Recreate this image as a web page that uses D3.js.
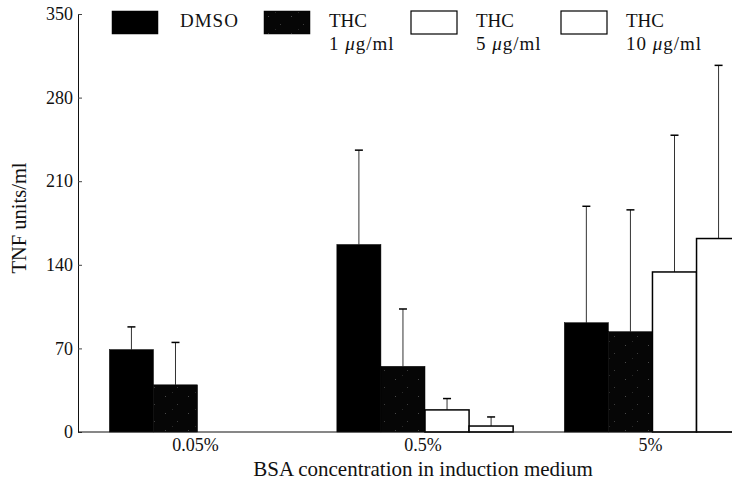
<!DOCTYPE html>
<html>
<head>
<meta charset="utf-8">
<script src="https://cdn.jsdelivr.net/npm/d3@7"></script>
<style>
  body { margin: 0; background: #fff; }
  svg { display: block; font-family: "Liberation Serif", "DejaVu Serif", serif; }
</style>
</head>
<body>
<div id="chart"></div>
<script>
// groups on the x axis
const groups = ["0.05%", "0.5%", "5%"];
// series (legend) : name line 1, dose line 2
const seriesNames = ["DMSO", "THC", "THC", "THC"];
const seriesDoses = ["", "1", "5", "10"];
// mean TNF units/ml per group (null = not measured)
const dmso = [69, 157, 91.5];
const thc1 = [39.5, 55, 84];
const thc5 = [null, 18.5, 134];
const thc10 = [null, 5, 162];
// error bar (upper) sizes
const dmsoErr = [19, 79, 97.5];
const thc1Err = [35.5, 48, 102];
const thc5Err = [null, 9.5, 114.5];
const thc10Err = [null, 7.6, 145];
// y ticks
const yTicks = [0, 70, 140, 210, 280, 350];

const seriesValues = [dmso, thc1, thc5, thc10];
const seriesErrors = [dmsoErr, thc1Err, thc5Err, thc10Err];

const width = 732, height = 486;
const margin = { top: 14, left: 78, bottom: 54 };

const svg = d3.select("#chart").append("svg")
  .attr("width", width)
  .attr("height", height);

// speckled pattern for THC 1 ug/ml
const defs = svg.append("defs");
const pat = defs.append("pattern")
  .attr("id", "speckle")
  .attr("patternUnits", "userSpaceOnUse")
  .attr("width", 23).attr("height", 17);
pat.append("rect").attr("width", 23).attr("height", 17).attr("fill", "#060606");
pat.append("rect").attr("x", 4).attr("y", 5).attr("width", 1).attr("height", 1).attr("fill", "#4a4a4a");
pat.append("rect").attr("x", 16).attr("y", 13).attr("width", 1).attr("height", 1).attr("fill", "#3c3c3c");
pat.append("rect").attr("x", 11).attr("y", 1).attr("width", 1).attr("height", 1).attr("fill", "#2a2a2a");

const fills = ["#000", "url(#speckle)", "#fff", "#fff"];

const y = d3.scaleLinear()
  .domain([0, 350])
  .range([height - margin.bottom, margin.top]);

const x0 = d3.scaleBand()
  .domain(groups)
  .range([margin.left, margin.left + 694])
  .paddingInner(0.225)
  .paddingOuter(0.138);

const x1 = d3.scaleBand()
  .domain(d3.range(seriesValues.length))
  .range([0, x0.bandwidth()])
  .padding(0);

// error bars (drawn first, bars cover the lower half)
const errG = svg.append("g");
seriesValues.forEach((vals, si) => {
  vals.forEach((v, gi) => {
    if (v === null) return;
    const cx = x0(groups[gi]) + x1(si) + x1.bandwidth() / 2;
    const top = v + seriesErrors[si][gi];
    errG.append("line")
      .attr("x1", cx).attr("x2", cx)
      .attr("y1", y(v)).attr("y2", y(top))
      .attr("stroke", "#333").attr("stroke-width", 1);
    errG.append("line")
      .attr("x1", cx - 4).attr("x2", cx + 4)
      .attr("y1", y(top)).attr("y2", y(top))
      .attr("stroke", "#000").attr("stroke-width", 1.5);
  });
});

// bars
const barG = svg.append("g");
seriesValues.forEach((vals, si) => {
  vals.forEach((v, gi) => {
    if (v === null) return;
    barG.append("rect")
      .attr("x", x0(groups[gi]) + x1(si))
      .attr("y", y(v))
      .attr("width", x1.bandwidth())
      .attr("height", y(0) - y(v))
      .attr("fill", fills[si])
      .attr("stroke", "#000")
      .attr("stroke-width", si >= 2 ? 1.5 : 0.5);
  });
});

// y axis
const yAxis = svg.append("g")
  .attr("transform", `translate(${margin.left},0)`)
  .call(d3.axisRight(y).tickValues(yTicks).tickSize(4).tickFormat(d3.format("d")));
yAxis.select(".domain").attr("stroke", "#111");
yAxis.selectAll(".tick line").attr("stroke", "#444");
yAxis.selectAll(".tick text")
  .attr("x", -5)
  .attr("text-anchor", "end")
  .attr("font-family", "Liberation Serif, serif")
  .attr("font-size", 18)
  .attr("fill", "#111");

// x axis line
svg.append("line")
  .attr("x1", margin.left).attr("x2", width)
  .attr("y1", y(0)).attr("y2", y(0))
  .attr("stroke", "#111").attr("stroke-width", 1.2);

// x category labels
svg.append("g").selectAll("text")
  .data(groups)
  .join("text")
  .attr("x", d => x0(d) + x0.bandwidth() / 2 - 2)
  .attr("y", 451)
  .attr("text-anchor", "middle")
  .attr("font-size", 18)
  .attr("fill", "#111")
  .text(d => d);

// axis titles
svg.append("text")
  .attr("x", 423).attr("y", 476)
  .attr("text-anchor", "middle")
  .attr("font-size", 21)
  .attr("fill", "#111")
  .text("BSA concentration in induction medium");

svg.append("text")
  .attr("transform", "translate(26,218) rotate(-90)")
  .attr("text-anchor", "middle")
  .attr("font-size", 20.5)
  .attr("fill", "#111")
  .text("TNF units/ml");

// legend
const legendX = [112, 264, 411, 561];
const legend = svg.append("g");
seriesNames.forEach((name, i) => {
  const g = legend.append("g").attr("transform", `translate(${legendX[i]},11)`);
  g.append("rect")
    .attr("width", 46).attr("height", 23)
    .attr("fill", fills[i])
    .attr("stroke", "#000")
    .attr("stroke-width", i >= 2 ? 1.2 : 0.5);
  const tx = i === 0 ? 68 : 65;
  g.append("text")
    .attr("x", tx).attr("y", 16)
    .attr("font-size", 19)
    .attr("letter-spacing", i === 0 ? 1 : 0)
    .attr("fill", "#111")
    .text(name);
  if (seriesDoses[i]) {
    const t = g.append("text")
      .attr("x", tx).attr("y", 39)
      .attr("font-size", 19)
      .attr("letter-spacing", 1)
      .attr("fill", "#111");
    t.append("tspan").text(seriesDoses[i] + " ");
    t.append("tspan").attr("font-style", "italic").text("\u03bc");
    t.append("tspan").text("g/ml");
  }
});
</script>
</body>
</html>
